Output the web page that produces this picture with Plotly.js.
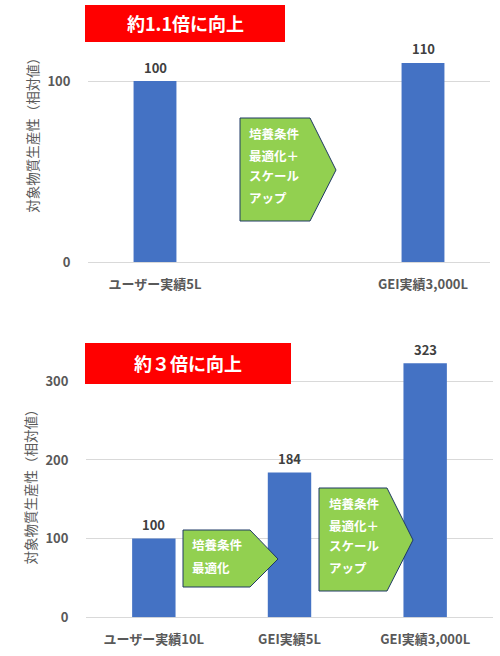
<!DOCTYPE html>
<html><head><meta charset="utf-8">
<script src="https://cdn.plot.ly/plotly-3.0.1.min.js"></script>
<style>html,body{margin:0;padding:0;background:#fff}</style>
</head><body><div id="chart" style="width:500px;height:656px"></div>
<script>
// ---- data ----
const topCategories = ['ユーザー実績5L', ' ', 'GEI実績3,000L'];
const topBarCats = ['ユーザー実績5L', 'GEI実績3,000L'];
const topValues = [100, 110];
const bottomCategories = ['ユーザー実績10L', 'GEI実績5L', 'GEI実績3,000L'];
const bottomValues = [100, 184, 323];
const topTitle = '約1.1倍に向上';
const bottomTitle = '約３倍に向上';
const yTitle = '対象物質生産性（相対値）';
const topArrowLines = ['培養条件', '最適化＋', 'スケール', 'アップ'];
const bottomArrow1Lines = ['培養条件', '最適化'];
const bottomArrow2Lines = ['培養条件', '最適化＋', 'スケール', 'アップ'];

// ---- style ----
const W = 500, H = 656;
const FONT = '"Noto Sans CJK JP", "Noto Sans", sans-serif';
const BAR = '#4472C4';
const GRID = '#D9D9D9';
const AXTXT = '#595959';
const VALTXT = '#404040';
const GREEN = '#92D050';
const NAVY = '#1F3864';

const px = (x) => x / W;
const py = (y) => 1 - y / H;
function poly(pts) {
  return 'M ' + pts.map(p => px(p[0]) + ',' + py(p[1])).join(' L ') + ' Z';
}

const traces = [
  {type: 'bar', x: topBarCats, y: topValues, xaxis: 'x', yaxis: 'y',
   marker: {color: BAR}, width: 0.32, hoverinfo: 'skip'},
  {type: 'bar', x: bottomCategories, y: bottomValues, xaxis: 'x2', yaxis: 'y2',
   marker: {color: BAR}, width: 0.32, hoverinfo: 'skip'}
];

const tickFont = {family: FONT, size: 13, color: AXTXT, weight: 'bold'};
const titleFont = {family: FONT, size: 13.5, color: AXTXT, weight: 'normal'};

function xAxis(domain, cats, anchor) {
  return {domain: domain, anchor: anchor, type: 'category', categoryorder: 'array',
    categoryarray: cats, showgrid: false, showline: false, zeroline: false,
    ticks: 'outside', ticklen: 10, tickcolor: 'rgba(0,0,0,0)', tickfont: tickFont,
    fixedrange: true};
}
function yAxis(domain, range, anchor) {
  return {domain: domain, anchor: anchor, range: range, tick0: 0, dtick: 100,
    showgrid: true, gridcolor: GRID, gridwidth: 1, zeroline: true, zerolinecolor: GRID,
    zerolinewidth: 1, showline: false, ticks: 'outside', ticklen: 14,
    tickcolor: 'rgba(0,0,0,0)', tickfont: tickFont,
    title: {text: yTitle, font: titleFont, standoff: 5}, fixedrange: true};
}

const annotations = [];
topBarCats.forEach((c, i) => annotations.push({xref: 'x', yref: 'y', x: c, y: topValues[i],
  text: String(topValues[i]), showarrow: false, yanchor: 'middle', yshift: 14,
  font: {family: FONT, size: 13, color: VALTXT, weight: 'bold'}}));
bottomCategories.forEach((c, i) => annotations.push({xref: 'x2', yref: 'y2', x: c, y: bottomValues[i],
  text: String(bottomValues[i]), showarrow: false, yanchor: 'middle', yshift: 14,
  font: {family: FONT, size: 13, color: VALTXT, weight: 'bold'}}));

function titleAnn(text, cx, cy) {
  annotations.push({xref: 'paper', yref: 'paper', x: px(cx), y: py(cy), text: text,
    showarrow: false, xanchor: 'center', yanchor: 'middle',
    font: {family: FONT, size: 18, color: '#FFFFFF', weight: 'bold'}});
}
titleAnn(topTitle, 185, 23);
titleAnn(bottomTitle, 188, 363);

function arrowText(lines, left, ys) {
  lines.forEach((t, i) => annotations.push({xref: 'paper', yref: 'paper', x: px(left), y: py(ys[i]),
    text: t, showarrow: false, xanchor: 'left', yanchor: 'middle',
    font: {family: FONT, size: 12.5, color: '#FFFFFF', weight: 'bold'}}));
}
arrowText(topArrowLines, 247, [133, 155, 175, 197]);
arrowText(bottomArrow1Lines, 190, [544.5, 567]);
arrowText(bottomArrow2Lines, 327, [503, 525, 545.5, 567]);

const shapes = [
  {type: 'rect', xref: 'paper', yref: 'paper', x0: px(85), x1: px(285), y0: py(42), y1: py(5),
   fillcolor: '#FF0000', line: {width: 0}, layer: 'above'},
  {type: 'rect', xref: 'paper', yref: 'paper', x0: px(85), x1: px(291), y0: py(384), y1: py(343),
   fillcolor: '#FF0000', line: {width: 0}, layer: 'above'},
  {type: 'path', xref: 'paper', yref: 'paper', layer: 'above',
   path: poly([[240,118],[310,118],[336,170],[310,221],[240,221]]),
   fillcolor: GREEN, line: {color: NAVY, width: 1}},
  {type: 'path', xref: 'paper', yref: 'paper', layer: 'above',
   path: poly([[183,530],[250,530],[278,559],[250,587],[183,587]]),
   fillcolor: GREEN, line: {color: NAVY, width: 1}},
  {type: 'path', xref: 'paper', yref: 'paper', layer: 'above',
   path: poly([[319,488],[387,488],[413,540],[387,591],[319,591]]),
   fillcolor: GREEN, line: {color: NAVY, width: 1}}
];

const layout = {
  width: W, height: H, margin: {l: 0, r: 0, t: 0, b: 0},
  paper_bgcolor: '#FFFFFF', plot_bgcolor: 'rgba(0,0,0,0)',
  showlegend: false, font: {family: FONT},
  xaxis: xAxis([0.176, 0.98], topCategories, 'y'),
  yaxis: yAxis([py(262), py(1.4)], [0, 144], 'x'),
  xaxis2: xAxis([0.172, 0.986], bottomCategories, 'y2'),
  yaxis2: yAxis([py(617.3), py(349.8)], [0, 340], 'x2'),
  shapes: shapes, annotations: annotations
};

Plotly.newPlot('chart', traces, layout, {displayModeBar: false, staticPlot: true});
</script></body></html>
